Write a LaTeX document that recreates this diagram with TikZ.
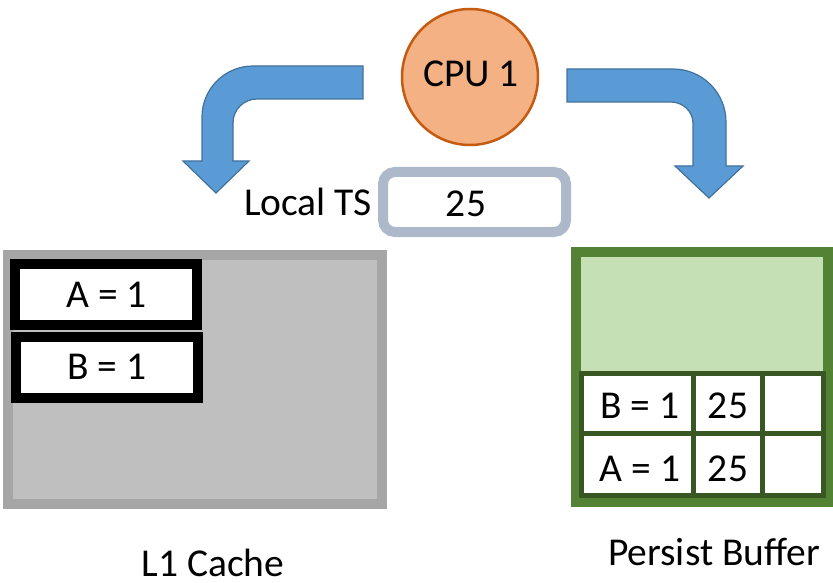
\documentclass[tikz,border=0pt]{standalone}
\usepackage{fontspec}
\setmainfont{Carlito}
\definecolor{cpufill}{HTML}{F4B183}
\definecolor{cpudraw}{HTML}{C55A11}
\definecolor{arrfill}{HTML}{5B9BD5}
\definecolor{arrdraw}{HTML}{41719C}
\definecolor{tsdraw}{HTML}{ADB9CA}
\definecolor{l1draw}{HTML}{A6A6A6}
\definecolor{l1fill}{HTML}{BFBFBF}
\definecolor{pbdraw}{HTML}{548235}
\definecolor{pbfill}{HTML}{C5E0B4}
\definecolor{celldraw}{HTML}{385723}
\tikzset{
  txt/.style={font=\fontsize{39.5}{42}\selectfont, inner sep=0pt, anchor=base, text depth=0pt},
  bigarrow/.style={fill=arrfill, draw=arrdraw, line width=1.2pt, line join=miter},
  entry/.style={draw=black, line width=10pt, fill=white},
  cell/.style={draw=celldraw, line width=5pt, fill=white},
}
\begin{document}
\begin{tikzpicture}[x=1pt,y=-1pt]
\useasboundingbox (0,0) rectangle (833,583);
% CPU
\node[circle, fill=cpufill, draw=cpudraw, line width=2.5pt, minimum size=136pt, inner sep=0pt] (cpu) at (470,77) {};
\node[txt] (cputxt) at (471,87) {CPU 1};
% left arrow
\path[bigarrow] (363,66) -- (253,66) .. controls (224.8,66) and (202,88.8) .. (202,117)
  -- (202,161) -- (183,161) -- (216,193) -- (249,161) -- (233,161) -- (233,123)
  .. controls (233,109.7) and (243.7,99) .. (257,99) -- (363,99) -- cycle;
% right arrow
\path[bigarrow] (567,69) -- (673,69) .. controls (702.3,69) and (726,92.7) .. (726,122)
  -- (726,166) -- (743,166) -- (709,198) -- (675,166) -- (693,166) -- (693,123)
  .. controls (693,111.4) and (682.6,102) .. (671,102) -- (567,102) -- cycle;
% Local TS
\node[txt] (tslabel) at (308,215) {Local TS};
\draw[tsdraw, line width=10pt, rounded corners=12pt, fill=white] (383,172) rectangle (566,232);
\node[txt] (tsval) at (466,216) {25};
% L1 cache
\draw[l1draw, line width=10pt, fill=l1fill] (8,255) rectangle (382,504);
\draw[entry] (15,264) rectangle (197,325);
\node[txt] (l1a) at (106.5,307) {A = 1};
\draw[entry] (16,337) rectangle (198,398);
\node[txt] (l1b) at (107,379) {B = 1};
\node[txt] (l1label) at (213,576) {L1 Cache};
% Persist buffer
\draw[pbdraw, line width=10pt, fill=pbfill] (576,252) rectangle (828,502);
\draw[cell] (581,373) rectangle (693,433);
\draw[cell] (693,373) rectangle (762,433);
\draw[cell] (762,373) rectangle (823,433);
\draw[cell] (581,433) rectangle (693,495);
\draw[cell] (693,433) rectangle (762,495);
\draw[cell] (762,433) rectangle (823,495);
\node[txt] (pbb) at (640,418) {B = 1};
\node[txt] (pbb2) at (728,418) {25};
\node[txt] (pba) at (640,481) {A = 1};
\node[txt] (pba2) at (728,481) {25};
\node[txt] (pblabel) at (714,565) {Persist Buffer};
\end{tikzpicture}
\end{document}
